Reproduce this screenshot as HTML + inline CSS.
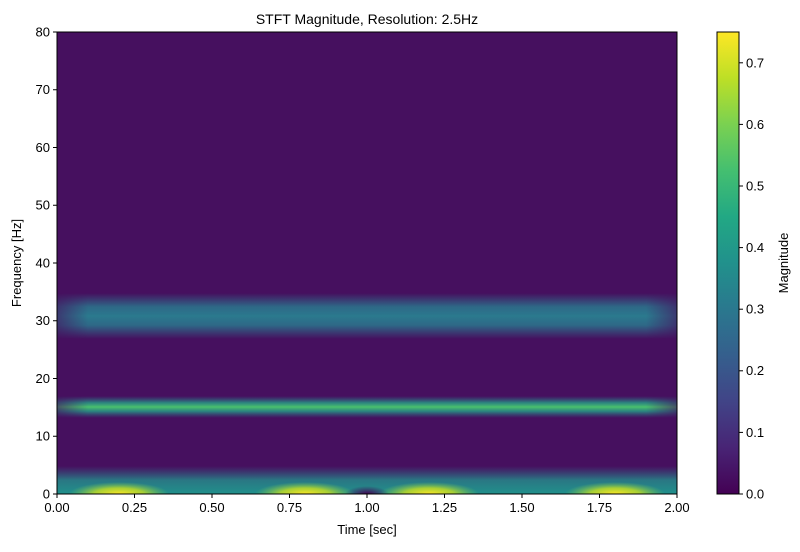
<!DOCTYPE html>
<html><head><style>body{margin:0;background:#fff}svg text{font-family:"Liberation Sans",sans-serif;font-size:13px;fill:#000}</style></head><body>
<svg width="800" height="547" xmlns="http://www.w3.org/2000/svg">
<defs>
<linearGradient id="vir" x1="0" y1="1" x2="0" y2="0">
<stop offset="0" stop-color="#440154"/><stop offset="0.1" stop-color="#482475"/><stop offset="0.2" stop-color="#414487"/><stop offset="0.3" stop-color="#355f8d"/><stop offset="0.4" stop-color="#2a788e"/><stop offset="0.5" stop-color="#21918c"/><stop offset="0.6" stop-color="#22a884"/><stop offset="0.7" stop-color="#44bf70"/><stop offset="0.8" stop-color="#7ad151"/><stop offset="0.9" stop-color="#bddf26"/><stop offset="1" stop-color="#fde725"/>
</linearGradient>
<linearGradient id="b30" x1="0" y1="0" x2="0" y2="1">
<stop offset="0" stop-color="#2a788e" stop-opacity="0"/><stop offset="0.3" stop-color="#2a788e" stop-opacity="0.85"/><stop offset="0.5" stop-color="#2b7a8e" stop-opacity="1"/><stop offset="0.7" stop-color="#2a788e" stop-opacity="0.85"/><stop offset="1" stop-color="#2a788e" stop-opacity="0"/>
</linearGradient>
<linearGradient id="b15" x1="0" y1="0" x2="0" y2="1">
<stop offset="0" stop-color="#2a788e" stop-opacity="0"/><stop offset="0.3" stop-color="#25a087" stop-opacity="0.8"/><stop offset="0.5" stop-color="#4ac16d" stop-opacity="1"/><stop offset="0.7" stop-color="#25a087" stop-opacity="0.8"/><stop offset="1" stop-color="#2a788e" stop-opacity="0"/>
</linearGradient>
<linearGradient id="b0" x1="0" y1="0" x2="0" y2="1">
<stop offset="0" stop-color="#2a788e" stop-opacity="0"/><stop offset="0.5" stop-color="#23908c" stop-opacity="0.8"/><stop offset="1" stop-color="#21918c" stop-opacity="1"/>
</linearGradient>
<radialGradient id="yb"><stop offset="0" stop-color="#fde725"/><stop offset="0.5" stop-color="#c8e020" stop-opacity="0.8"/><stop offset="1" stop-color="#7ad151" stop-opacity="0"/></radialGradient>
<radialGradient id="db"><stop offset="0" stop-color="#440154"/><stop offset="1" stop-color="#440154" stop-opacity="0"/></radialGradient>
<linearGradient id="fade" x1="0" y1="0" x2="1" y2="0">
<stop offset="0" stop-color="#fff" stop-opacity="0.4"/><stop offset="0.05" stop-color="#fff"/><stop offset="0.95" stop-color="#fff"/><stop offset="1" stop-color="#fff" stop-opacity="0.4"/></linearGradient>
<mask id="m"><rect x="57" y="32" width="620" height="462" fill="url(#fade)"/></mask>
<clipPath id="c"><rect x="57" y="32" width="620" height="462"/></clipPath>
</defs>
<g clip-path="url(#c)">
<rect x="57" y="32" width="620" height="462" fill="#46105f"/>
<rect x="57" y="293" width="620" height="46" fill="url(#b30)" mask="url(#m)"/>
<rect x="57" y="396" width="620" height="22" fill="url(#b15)" mask="url(#m)"/>
<rect x="57" y="466" width="620" height="28" fill="url(#b0)"/>
<ellipse cx="119" cy="494" rx="50" ry="12" fill="url(#yb)"/>
<ellipse cx="305" cy="494" rx="50" ry="12" fill="url(#yb)"/>
<ellipse cx="429" cy="494" rx="50" ry="12" fill="url(#yb)"/>
<ellipse cx="615" cy="494" rx="50" ry="12" fill="url(#yb)"/>
<ellipse cx="367" cy="494" rx="22" ry="8" fill="url(#db)"/>
</g>
<rect x="57" y="32" width="620" height="462" fill="none" stroke="#000" stroke-width="1"/>
<text x="367" y="24" text-anchor="middle" style="font-size:14px">STFT Magnitude, Resolution: 2.5Hz</text>
<g stroke="#000">
<line x1="57" y1="494" x2="57" y2="498"/><line x1="134.5" y1="494" x2="134.5" y2="498"/><line x1="212" y1="494" x2="212" y2="498"/><line x1="289.5" y1="494" x2="289.5" y2="498"/><line x1="367" y1="494" x2="367" y2="498"/><line x1="444.5" y1="494" x2="444.5" y2="498"/><line x1="522" y1="494" x2="522" y2="498"/><line x1="599.5" y1="494" x2="599.5" y2="498"/><line x1="677" y1="494" x2="677" y2="498"/>
<line x1="53" y1="494" x2="57" y2="494"/><line x1="53" y1="436.25" x2="57" y2="436.25"/><line x1="53" y1="378.5" x2="57" y2="378.5"/><line x1="53" y1="320.75" x2="57" y2="320.75"/><line x1="53" y1="263" x2="57" y2="263"/><line x1="53" y1="205.25" x2="57" y2="205.25"/><line x1="53" y1="147.5" x2="57" y2="147.5"/><line x1="53" y1="89.75" x2="57" y2="89.75"/><line x1="53" y1="32" x2="57" y2="32"/>
</g>
<g text-anchor="middle">
<text x="57" y="512">0.00</text><text x="134.5" y="512">0.25</text><text x="212" y="512">0.50</text><text x="289.5" y="512">0.75</text><text x="367" y="512">1.00</text><text x="444.5" y="512">1.25</text><text x="522" y="512">1.50</text><text x="599.5" y="512">1.75</text><text x="677" y="512">2.00</text>
</g>
<text x="367" y="534" text-anchor="middle">Time [sec]</text>
<g text-anchor="end">
<text x="50" y="498.5">0</text><text x="50" y="440.5">10</text><text x="50" y="383">20</text><text x="50" y="325">30</text><text x="50" y="267.5">40</text><text x="50" y="209.5">50</text><text x="50" y="152">60</text><text x="50" y="94">70</text><text x="50" y="36.5">80</text>
</g>
<text transform="translate(21,263) rotate(-90)" text-anchor="middle">Frequency [Hz]</text>
<rect x="717" y="32" width="22" height="462" fill="url(#vir)" stroke="#000"/>
<g stroke="#000">
<line x1="739" y1="494" x2="743" y2="494"/><line x1="739" y1="432.4" x2="743" y2="432.4"/><line x1="739" y1="370.8" x2="743" y2="370.8"/><line x1="739" y1="309.2" x2="743" y2="309.2"/><line x1="739" y1="247.6" x2="743" y2="247.6"/><line x1="739" y1="186" x2="743" y2="186"/><line x1="739" y1="124.4" x2="743" y2="124.4"/><line x1="739" y1="62.8" x2="743" y2="62.8"/>
</g>
<g>
<text x="746" y="498.5">0.0</text><text x="746" y="437">0.1</text><text x="746" y="375">0.2</text><text x="746" y="313.7">0.3</text><text x="746" y="252">0.4</text><text x="746" y="190.5">0.5</text><text x="746" y="129">0.6</text><text x="746" y="67.3">0.7</text>
</g>
<text transform="translate(788,263) rotate(-90)" text-anchor="middle">Magnitude</text>
</svg>
</body></html>
